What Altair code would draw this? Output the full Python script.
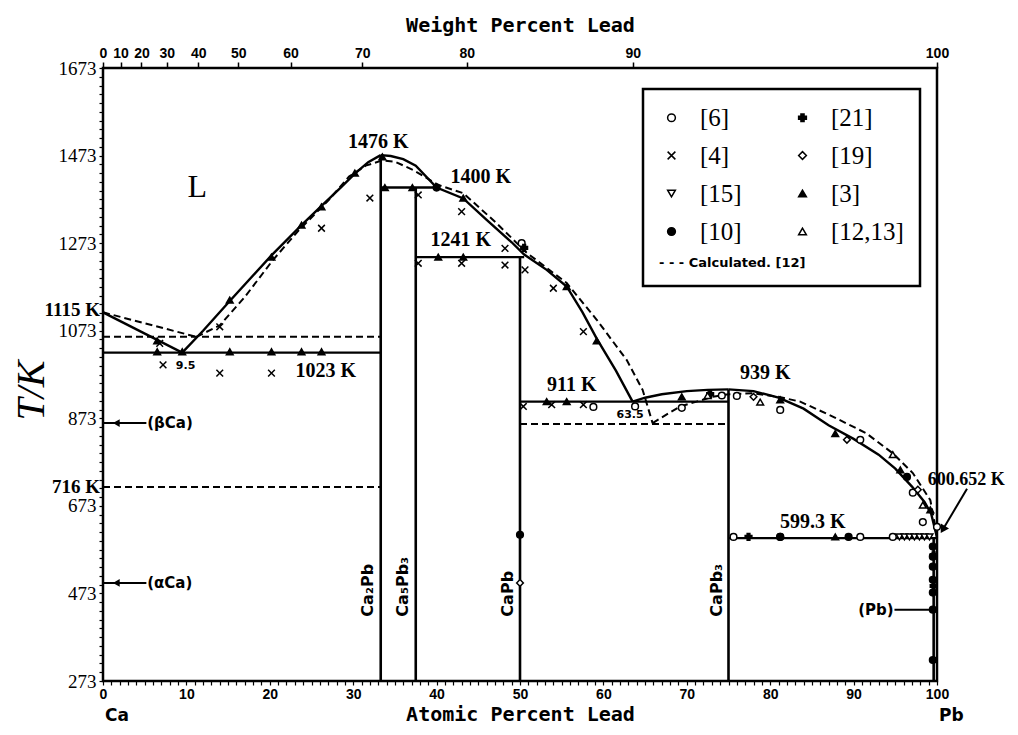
import altair as alt
import pandas as pd

W, H = 834, 613

# ---------------- axes ----------------
t_major = [273, 473, 673, 873, 1073, 1273, 1473, 1673]
t_minor = list(range(273, 1674, 20))
x_minor = list(range(0, 101))
wt_labels = [0, 10, 20, 30, 40, 50, 60, 70, 80, 90, 100]
M_PB, M_CA = 207.2, 40.078
wt_pos = [100 * (w / M_PB) / ((w / M_PB) + ((100 - w) / M_CA)) for w in wt_labels]

# ---------------- solid phase boundaries ----------------
liq_ca_x = [0, 9.5]
liq_ca_t = [1115, 1023]
liq_ca2pb_x = [9.5, 12, 15.2, 20.2, 23.8, 26.2, 28.5, 30.2, 31.8, 33.3]
liq_ca2pb_t = [1023, 1073, 1141, 1245, 1314, 1358, 1400, 1432, 1458, 1474]
liq_mid_x = [33.3, 34.5, 36, 37.5, 40, 43.2, 46, 49, 50.5, 53.2, 55.6, 57.5, 59.2, 61.5, 63.5]
liq_mid_t = [1474, 1472, 1465, 1450, 1400, 1375, 1326, 1275, 1247, 1212, 1174, 1115, 1055, 982, 911]
liq_eut_x = [63.5, 65, 67, 70, 72.5, 75]
liq_eut_t = [911, 920, 928, 935, 938, 939]
liq_pb_x = [75, 78, 81, 84, 87, 90, 93, 95, 97, 98.5, 99.3, 100]
liq_pb_t = [939, 935, 920, 895, 857, 826, 790, 758, 717, 682, 655, 600.652]

iso_t = [1023, 1400, 1241, 911, 599.3]
iso_x1 = [0, 33.3, 37.5, 50, 75]
iso_x2 = [33.3, 40, 50.5, 75, 100]

cmp_x = [33.3, 37.5, 50, 75, 99.6]
cmp_bot = [273, 273, 273, 273, 273]
cmp_top = [1474, 1400, 1241, 939, 599.3]

# ---------------- calculated (dashed) ----------------
calc_ca_x = [0, 11.2]
calc_ca_t = [1115, 1059]
calc_liq1_x = [11.2, 14, 17, 20.4, 23.5, 27, 29.5, 31.5, 33.5, 35, 37.2, 40.2, 43.2, 47,
               50.8, 55.6, 59.2, 62.8, 64.7, 65.9]
calc_liq1_t = [1059, 1085, 1150, 1235, 1303, 1370, 1425, 1450, 1462, 1459, 1440, 1406, 1387,
               1322, 1251, 1182, 1098, 1006, 938, 862]
calc_liq2_x = [65.9, 67, 69.2, 73.1, 75, 78, 81, 83.6, 87.5, 91.5, 94.7, 97.1, 99.2, 100]
calc_liq2_t = [862, 875, 900, 922, 928, 930, 922, 911, 877, 839, 793, 748, 686, 605]
calc_iso_t = [1059, 716, 860]
calc_iso_x1 = [0, 0, 50]
calc_iso_x2 = [33.3, 33.3, 75]

# ---------------- experimental points ----------------
s6_x = [50.2, 58.8, 63.8, 69.4, 74.2, 76.0, 81.2, 90.8, 97.1, 98.3, 100, 75.6, 81.2, 90.8, 94.7]
s6_t = [1273, 899, 900, 897, 925, 924, 892, 824, 703, 636, 625, 602, 602, 602, 602]
s21_x = [50.5, 77.4, 99.6, 99.6, 72.8]
s21_t = [1262, 602, 560, 490, 928]
s4_x = [6.8, 7.2, 14.0, 14.0, 20.2, 26.2, 32.0, 37.8, 37.8, 43.0, 43.0, 48.2, 48.2, 50.6,
        54.0, 57.6, 50.4, 53.8, 57.6]
s4_t = [1044, 995, 1082, 976, 976, 1307, 1376, 1383, 1227, 1345, 1227, 1261, 1223, 1212,
        1170, 1071, 900, 904, 904]
s19_x = [78.0, 89.2, 97.7, 50.0]
s19_t = [922, 824, 710, 497]
s15_x = [95.5, 96.1, 96.7, 97.3, 97.9, 98.5, 99.1]
s15_t = [602, 602, 602, 602, 602, 602, 602]
s3_x = [6.5, 6.5, 9.5, 15.2, 20.2, 23.8, 26.2, 15.2, 20.2, 23.8, 26.2, 30.2, 33.5, 33.8,
        37.1, 40.2, 43.2, 43.2, 55.6, 59.2, 53.2, 55.6, 69.4, 81.2, 87.8, 95.6, 99.2, 87.8]
s3_t = [1050, 1025, 1025, 1025, 1025, 1025, 1025, 1143, 1241, 1314, 1356, 1433, 1470, 1400,
        1400, 1241, 1376, 1241, 1174, 1050, 911, 911, 922, 915, 838, 755, 664, 602]
s10_x = [40.0, 50.0, 96.4, 89.4, 81.2, 99.5, 99.5, 99.5, 99.5, 99.5, 99.5, 99.5]
s10_t = [1400, 607, 739, 602, 602, 580, 557, 534, 504, 475, 436, 321]
s12_x = [72.5, 78.8, 94.7, 98.3]
s12_t = [925, 910, 790, 675]

# legend is filled column by column: left column first, then right column
sources = ["[6]", "[4]", "[15]", "[10]", "[21]", "[19]", "[3]", "[12,13]"]
src_shapes = ["circle", "M-1,-1L1,1M-1,1L1,-1", "triangle-down", "circle",
              "cross", "diamond", "triangle-up", "triangle-up"]
src_fills = ["white", "black", "white", "black", "black", "white", "black", "white"]
src_strokes = ["black"] * 8

# ---------------- annotations ----------------
k_labels = ["1476 K", "1400 K", "1241 K", "1023 K", "911 K", "939 K", "599.3 K"]
k_x = [33.0, 45.3, 42.9, 26.7, 56.2, 79.4, 85.1]
k_t = [1505, 1425, 1280, 980, 949, 977, 637]
small_labels = ["9.5", "63.5"]
small_x = [9.9, 63.2]
small_t = [993, 881]
left_labels = ["1115 K", "716 K"]
left_t = [1120, 716]
phase_labels = ["(βCa)", "(αCa)"]
phase_x = [5.3, 5.3]
phase_t = [862, 497]
cmp_labels = ["Ca₂Pb", "Ca₅Pb₃", "CaPb", "CaPb₃"]
cmp_lab_x = [31.8, 36.0, 48.6, 73.6]
cmp_lab_t = [420, 420, 420, 420]
arrow_ids = ["b", "b", "a", "a", "p", "p", "m", "m"]
arrow_x = [0, 5.2, 0, 5.2, 94.9, 99.7, 103.6, 100.7]
arrow_t = [862, 862, 497, 497, 436, 436, 712, 619]
head_x = [1.6, 1.6]
head_t = [862, 497]

# ---------------- build tables ----------------
def curves(items):
    frames = []
    for name, xs, ts in items:
        frames.append(pd.DataFrame({"id": name, "x": xs, "t": ts, "o": list(range(len(xs)))}))
    return pd.concat(frames, ignore_index=True)

df_solid = curves([("a", liq_ca_x, liq_ca_t), ("b", liq_ca2pb_x, liq_ca2pb_t),
                   ("c", liq_mid_x, liq_mid_t), ("d", liq_eut_x, liq_eut_t),
                   ("e", liq_pb_x, liq_pb_t)])
df_dash = curves([("a", calc_ca_x, calc_ca_t), ("b", calc_liq1_x, calc_liq1_t),
                  ("c", calc_liq2_x, calc_liq2_t)])
df_iso = pd.DataFrame({"x1": iso_x1, "x2": iso_x2, "t1": iso_t, "t2": iso_t})
df_cmp = pd.DataFrame({"x1": cmp_x, "x2": cmp_x, "t1": cmp_bot, "t2": cmp_top})
df_ciso = pd.DataFrame({"x1": calc_iso_x1, "x2": calc_iso_x2, "t1": calc_iso_t, "t2": calc_iso_t})

pts = []
for s, xs, ts in [("[6]", s6_x, s6_t), ("[21]", s21_x, s21_t), ("[4]", s4_x, s4_t),
                  ("[19]", s19_x, s19_t), ("[15]", s15_x, s15_t), ("[3]", s3_x, s3_t),
                  ("[10]", s10_x, s10_t), ("[12,13]", s12_x, s12_t)]:
    pts.append(pd.DataFrame({"src": s, "x": xs, "t": ts}))
df_pts = pd.concat(pts, ignore_index=True)

df_k = pd.DataFrame({"label": k_labels, "x": k_x, "t": k_t})
df_small = pd.DataFrame({"label": small_labels, "x": small_x, "t": small_t})
df_left = pd.DataFrame({"label": left_labels, "x": [0, 0], "t": left_t})
df_phase = pd.DataFrame({"label": phase_labels, "x": phase_x, "t": phase_t})
df_cmpl = pd.DataFrame({"label": cmp_labels, "x": cmp_lab_x, "t": cmp_lab_t})
df_arrow = pd.DataFrame({"id": arrow_ids, "x": arrow_x, "t": arrow_t})
df_head = pd.DataFrame({"x": head_x, "t": head_t})
df_wt = pd.DataFrame({"x": wt_pos, "t": [1673] * len(wt_pos)})

# ---------------- scales / axes ----------------
x_sc = alt.Scale(domain=[0, 100], nice=False, zero=False)
y_sc = alt.Scale(domain=[273, 1673], nice=False, zero=False)

ax_b = alt.Axis(orient="bottom", values=x_minor,
                labelExpr="datum.value % 10 == 0 ? datum.label : ''", format="d",
                title="Atomic Percent Lead", titleFont="DejaVu Sans Mono",
                titleFontWeight="bold", titleFontSize=20, titlePadding=3,
                labelFont="Liberation Sans", labelFontWeight="bold", labelFontSize=14,
                labelFlush=False, labelOverlap=False, tickSize=4, tickColor="black",
                tickWidth=1.2, domain=False, grid=False, labelPadding=2,
                labelColor="black", titleColor="black")
ax_y = alt.Axis(values=t_minor,
                labelExpr="(datum.value - 273) % 200 == 0 ? datum.label : ''", format="d",
                title="T/K", titleFont="Liberation Serif", titleFontSize=40,
                titleFontStyle="italic", titleFontWeight="normal", titleAngle=270,
                titleX=-72, titleY=322, titleAlign="center", titleBaseline="middle",
                labelFont="Liberation Serif", labelFontSize=19, labelOverlap=False,
                labelFlush=False, tickSize=4, tickColor="black", tickWidth=1.2,
                domain=False, grid=False, labelPadding=3, labelColor="black",
                titleColor="black")
ax_t = alt.Axis(orient="top", values=wt_pos,
                labelExpr="format(100*datum.value*207.2/(datum.value*207.2+(100-datum.value)*40.078), '.0f')",
                title="Weight Percent Lead", titleFont="DejaVu Sans Mono",
                titleFontWeight="bold", titleFontSize=20, titlePadding=11,
                labelFont="Liberation Sans", labelFontWeight="bold", labelFontSize=14,
                labelFlush=False, labelOverlap=False, tickSize=6, tickColor="black",
                tickWidth=1.5, domain=False, grid=False, labelPadding=2,
                labelColor="black", titleColor="black")

def X(f="x"):
    return alt.X(f + ":Q", scale=x_sc, axis=ax_b)

def Y(f="t"):
    return alt.Y(f + ":Q", scale=y_sc, axis=ax_y)

leg = alt.Legend(title="- - -  Calculated. [12]", orient="none", legendX=540, legendY=21,
                 columns=2, titleOrient="bottom", titleAnchor="start",
                 titleFont="DejaVu Sans", titleFontSize=13, titleFontWeight="bold",
                 titlePadding=12, labelFont="Liberation Serif", labelFontSize=25,
                 labelOffset=16, symbolSize=60, symbolStrokeColor="black",
                 symbolStrokeWidth=1.5, columnPadding=48, rowPadding=12, padding=16,
                 strokeColor="black", fillColor="white", labelColor="black",
                 titleColor="black", symbolOpacity=1)

solid = alt.Chart(df_solid).mark_line(color="black", strokeWidth=2.4).encode(
    x=X(), y=Y(), detail="id:N", order="o:Q")
dashed = alt.Chart(df_dash).mark_line(color="black", strokeWidth=2, strokeDash=[7, 4]).encode(
    x=X(), y=Y(), detail="id:N", order="o:Q")
iso = alt.Chart(df_iso).mark_rule(color="black", strokeWidth=2.4).encode(
    x=X("x1"), x2="x2:Q", y=Y("t1"), y2="t2:Q")
cmpv = alt.Chart(df_cmp).mark_rule(color="black", strokeWidth=2.6).encode(
    x=X("x1"), x2="x2:Q", y=Y("t1"), y2="t2:Q")
ciso = alt.Chart(df_ciso).mark_rule(color="black", strokeWidth=2, strokeDash=[7, 4]).encode(
    x=X("x1"), x2="x2:Q", y=Y("t1"), y2="t2:Q")
points = alt.Chart(df_pts).mark_point(strokeWidth=1.5, opacity=1, size=45).encode(
    x=X(), y=Y(),
    shape=alt.Shape("src:N", scale=alt.Scale(domain=sources, range=src_shapes), legend=leg),
    fill=alt.Fill("src:N", scale=alt.Scale(domain=sources, range=src_fills), legend=leg),
    stroke=alt.Stroke("src:N", scale=alt.Scale(domain=sources, range=src_strokes), legend=leg))
arrows = alt.Chart(df_arrow).mark_line(color="black", strokeWidth=2).encode(
    x=X(), y=Y(), detail="id:N")
heads = alt.Chart(df_head).mark_point(shape="triangle-left", filled=True, color="black",
                                      size=60, opacity=1).encode(x=X(), y=Y())
head600 = alt.Chart(df_arrow[df_arrow["id"] == "m"].tail(1)).mark_point(
    shape="triangle-up", angle=211, filled=True, color="black", size=90, opacity=1).encode(
    x=X(), y=Y())

ktext = alt.Chart(df_k).mark_text(font="Liberation Serif", fontWeight="bold", fontSize=20,
                                  color="black").encode(x=X(), y=Y(), text="label:N")
pb600 = alt.Chart(pd.DataFrame({"label": ["600.652 K"], "x": [98.9], "t": [732]})).mark_text(
    font="Liberation Serif", fontWeight="bold", fontSize=18, color="black", align="left").encode(
    x=X(), y=Y(), text="label:N")
stext = alt.Chart(df_small).mark_text(font="DejaVu Sans", fontWeight="bold", fontSize=11,
                                      color="black").encode(x=X(), y=Y(), text="label:N")
ltext = alt.Chart(df_left).mark_text(font="Liberation Serif", fontWeight="bold", fontSize=19,
                                     color="black", align="right", dx=-3).encode(
    x=X(), y=Y(), text="label:N")
ptext = alt.Chart(df_phase).mark_text(font="DejaVu Sans", fontWeight="bold", fontSize=15,
                                      color="black", align="left").encode(
    x=X(), y=Y(), text="label:N")
pbtext = alt.Chart(pd.DataFrame({"label": ["(Pb)"], "x": [94.8], "t": [436]})).mark_text(
    font="DejaVu Sans", fontWeight="bold", fontSize=15, color="black", align="right").encode(
    x=X(), y=Y(), text="label:N")
ctext = alt.Chart(df_cmpl).mark_text(font="DejaVu Sans", fontWeight="bold", fontSize=16,
                                     color="black", align="left", baseline="middle",
                                     angle=270).encode(x=X(), y=Y(), text="label:N")
Ltext = alt.Chart(pd.DataFrame({"label": ["L"], "x": [11.3], "t": [1401]})).mark_text(
    font="Liberation Serif", fontSize=32, color="black").encode(x=X(), y=Y(), text="label:N")
endtext = alt.Chart(pd.DataFrame({"label": ["Ca", "Pb"], "x": [0, 100]})).mark_text(
    font="DejaVu Sans", fontWeight="bold", fontSize=17, color="black", align="left",
    baseline="middle", dx=2).encode(x=X(), y=alt.value(648), text="label:N")

inner = alt.layer(ciso, dashed, solid, iso, cmpv, arrows, heads, head600, points,
                  ktext, pb600, stext, ltext, ptext, pbtext, ctext, Ltext, endtext)

top = alt.Chart(df_wt).mark_point(opacity=0).encode(
    x=alt.X("x:Q", scale=alt.Scale(domain=[0, 100], nice=False, zero=False), axis=ax_t),
    y=Y())

chart = alt.layer(inner, top).resolve_scale(x="independent").properties(
    width=W, height=H,
    autosize=alt.AutoSizeParams(type="none"),
    padding={"left": 95, "top": 60, "right": 73, "bottom": 46},
).configure_view(stroke="black", strokeWidth=2.5).configure_legend(strokeWidth=2.5)

chart.save("out.html", embed_options={"renderer": "svg", "actions": False})
